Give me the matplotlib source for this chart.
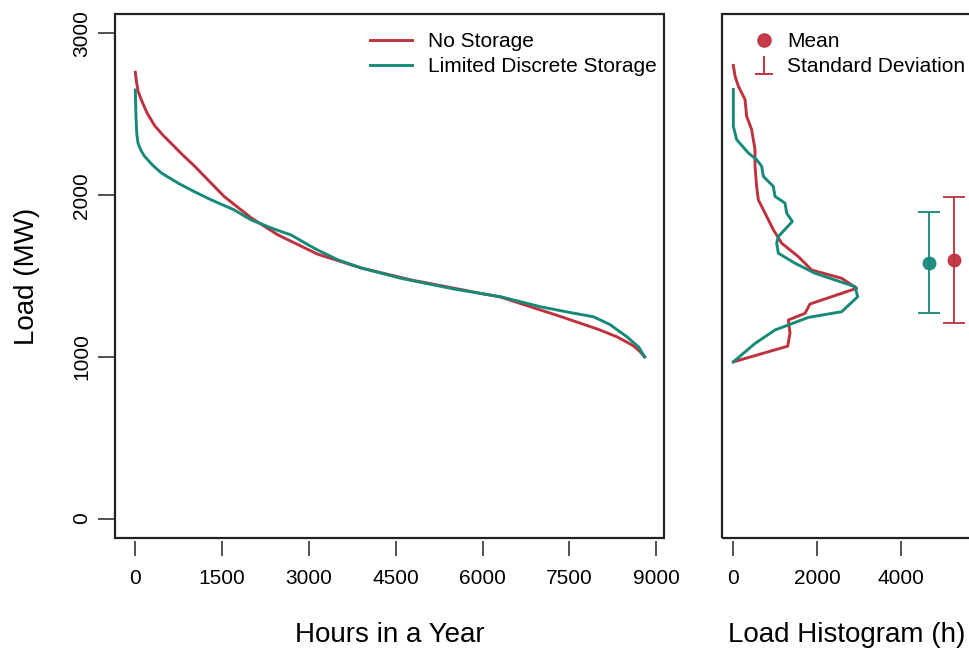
import matplotlib
matplotlib.use("Agg")
import matplotlib.pyplot as plt
from matplotlib.lines import Line2D
from matplotlib.path import Path
from matplotlib.patches import Rectangle

plt.rcParams['font.family'] = ['Liberation Sans', 'DejaVu Sans']

# ---- data ----
series_names = ["No Storage", "Limited Discrete Storage"]
colors = ["#C0313F", "#168A79"]

hours_ns = [0, 20, 50, 103, 200, 333, 480, 620, 800, 1022, 1280, 1540, 2000, 2460,
            3150, 3900, 4760, 5500, 6000, 6310, 7000, 7345, 8000, 8322, 8600, 8724,
            8800]
load_ns = [2760, 2700, 2640, 2590, 2510, 2430, 2370, 2320, 2255, 2180, 2085, 1990,
           1860, 1755, 1635, 1550, 1476, 1425, 1390, 1370, 1290, 1250, 1170, 1124,
           1070, 1031, 1000]

hours_ld = [0, 10, 25, 46, 100, 160, 300, 450, 736, 1000, 1310, 1700, 2000, 2400,
            2690, 3000, 3150, 3500, 3900, 4586, 5500, 6310, 7000, 7500, 7914,
            8200, 8495, 8700, 8800]
load_ld = [2650, 2500, 2380, 2323, 2275, 2240, 2185, 2137, 2075, 2025, 1971, 1910,
           1847, 1790, 1754, 1690, 1661, 1600, 1550, 1486, 1420, 1372, 1310, 1275,
           1248, 1200, 1124, 1060, 1000]

hist_load_ns = [2802, 2736, 2674, 2591, 2488, 2405, 2281, 2178, 2054, 1971, 1889,
                1786, 1703, 1620, 1537, 1486, 1424, 1372, 1327, 1269, 1228, 1147,
                1066, 969]
hist_cnt_ns = [8, 48, 127, 286, 325, 444, 524, 524, 563, 603, 762, 960, 1159, 1555,
               1873, 2587, 2944, 2349, 1833, 1714, 1317, 1357, 1302, 8]

hist_load_ld = [2653, 2426, 2343, 2261, 2219, 2178, 2116, 2054, 1992, 1951, 1889,
                1837, 1744, 1703, 1641, 1579, 1517, 1434, 1372, 1279, 1244, 1166,
                1083, 969]
hist_cnt_ld = [8, 8, 87, 365, 563, 683, 722, 960, 1000, 1238, 1278, 1413, 1079,
               1040, 1079, 1476, 1952, 2905, 2968, 2587, 1794, 1000, 524, 8]

mean_pos = [5270, 4674]
mean_load = [1600, 1583]
sd_load = [390, 313]

xticks_left = [0, 1500, 3000, 4500, 6000, 7500, 9000]
xticks_right = [0, 2000, 4000]
yticks = [0, 1000, 2000, 3000]

# ---- figure ----
W, H = 970, 649
fig = plt.figure(figsize=(W / 100, H / 100), dpi=100)

def px_axes(x0, y0, x1, y1):
    return fig.add_axes([x0 / W, 1 - y1 / H, (x1 - x0) / W, (y1 - y0) / H])

ax1 = px_axes(115, 14, 664, 538)
ax2 = px_axes(722, 14, 972, 538)

lw = 2.1
ax1.plot(hours_ns, load_ns, color=colors[0], lw=lw, label=series_names[0])
ax1.plot(hours_ld, load_ld, color=colors[1], lw=lw, label=series_names[1])

ax2.plot(hist_cnt_ns, hist_load_ns, color=colors[0], lw=lw)
ax2.plot(hist_cnt_ld, hist_load_ld, color=colors[1], lw=lw)
for i in range(2):
    ax2.errorbar(mean_pos[i], mean_load[i], yerr=sd_load[i], fmt='o', color=colors[i],
                 ms=9, capsize=8, elinewidth=1.4, capthick=1.4, alpha=0.95)

ylim = (-120, 3120)
for ax in (ax1, ax2):
    ax.set_ylim(*ylim)
    for s in ax.spines.values():
        s.set_visible(False)
    ax.add_patch(Rectangle((0, 0), 1, 1, transform=ax.transAxes, fill=False,
                           edgecolor='#222222', lw=1.6, clip_on=False, zorder=5))
    ax.spines['bottom'].set_position(('outward', 2))
    ax.tick_params(axis='x', direction='out', length=11, width=1.1, pad=9,
                   labelsize=15, color='#222222')
    ax.tick_params(axis='y', direction='out', length=12, width=1.1, pad=5,
                   labelsize=15, color='#222222')

ax1.set_xlim(-351, 9135)
ax1.set_xticks(xticks_left)
ax1.set_yticks(yticks)
ax1.set_yticklabels([str(v) for v in yticks], rotation=90, va='center')

ax2.set_xlim(-262, 5690)
ax2.set_xticks(xticks_right)
ax2.set_yticks([])

ax1.set_xlabel("Hours in a Year", fontsize=20, labelpad=25)
ax1.set_ylabel("Load (MW)", fontsize=20, labelpad=23)
ax2.set_xlabel("Load Histogram (h)", fontsize=20, labelpad=25)

ax1.legend(loc='upper left', bbox_to_anchor=(370 / W, 1 - 32 / H),
           bbox_transform=fig.transFigure, frameon=False, fontsize=15,
           handlelength=2.0, handletextpad=0.77, labelspacing=0.3,
           borderaxespad=0, borderpad=0)

perp = Path([(-1, -1), (1, -1), (0, -1), (0, 1)],
            [Path.MOVETO, Path.LINETO, Path.MOVETO, Path.LINETO])
h_mean = Line2D([], [], marker='o', ls='none', color=colors[0], ms=9.5, alpha=0.95)
h_sd = Line2D([], [], marker=perp, ls='none', color=colors[0], ms=13,
              markeredgewidth=1.4, markerfacecolor='none')
ax2.legend([h_mean, h_sd], ["Mean", "Standard Deviation"], loc='upper left',
           bbox_to_anchor=(752 / W, 1 - 32 / H), bbox_transform=fig.transFigure,
           frameon=False, fontsize=15, handlelength=1.2, handletextpad=0.5,
           labelspacing=0.3, borderaxespad=0, borderpad=0)

fig.savefig("out.png", dpi=100)
